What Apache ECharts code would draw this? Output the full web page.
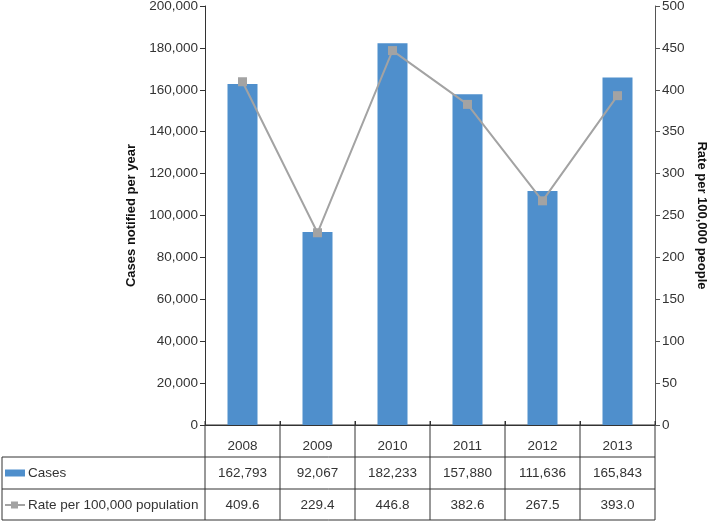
<!DOCTYPE html>
<html><head><meta charset="utf-8">
<script src="https://cdn.jsdelivr.net/npm/echarts@6/dist/echarts.min.js"></script>
<style>html,body{margin:0;padding:0;background:#fff}#c{width:709px;height:522px}</style>
</head><body><div id="c"></div>
<script>
const years = ['2008','2009','2010','2011','2012','2013'];
const cases = [162793, 92067, 182233, 157880, 111636, 165843];
const rates = [409.6, 229.4, 446.8, 382.6, 267.5, 393.0];
const casesLabel = 'Cases';
const rateLabel = 'Rate per 100,000 population';
const leftName = 'Cases notified per year';
const rightName = 'Rate per 100,000 people';

const FONT = 'Liberation Sans, Arial, Helvetica, sans-serif';
const FS = 13.5;
const BLUE = '#4f8fcc';
const GREY = '#a3a3a3';
const chart = echarts.init(document.getElementById('c'), null, {renderer:'canvas'});
const fmt = v => v.toLocaleString('en-US');
const option = {
  animation:false,
  grid:{left:205, right:54, top:6, bottom:97, containLabel:false, outerBoundsMode:'none'},
  xAxis:{type:'category', data:years,
    axisLine:{show:true, lineStyle:{color:'#333', width:1}},
    axisTick:{show:true, inside:true, length:4, lineStyle:{color:'#333'}},
    axisLabel:{show:true, margin:14, fontFamily:FONT, fontSize:FS, color:'#333'}},
  yAxis:[
    {type:'value', min:0, max:200000, interval:20000, position:'left',
     name:leftName, nameLocation:'middle', nameGap:66,
     nameTextStyle:{fontFamily:FONT, fontSize:13, fontWeight:'bold', color:'#111'},
     axisLine:{show:true, lineStyle:{color:'#333'}},
     axisTick:{show:true, length:5, lineStyle:{color:'#333'}},
     axisLabel:{formatter:v=>fmt(v), fontFamily:FONT, fontSize:FS, color:'#333', margin:7},
     splitLine:{show:false}},
    {type:'value', min:0, max:500, interval:50, position:'right',
     name:rightName, nameLocation:'middle', nameGap:39, nameRotate:-90,
     nameTextStyle:{fontFamily:FONT, fontSize:13, fontWeight:'bold', color:'#111'},
     axisLine:{show:true, lineStyle:{color:'#555'}},
     axisTick:{show:true, length:5, lineStyle:{color:'#555'}},
     axisLabel:{fontFamily:FONT, fontSize:FS, color:'#333', margin:7},
     splitLine:{show:false}}
  ],
  series:[
    {name:casesLabel, type:'bar', data:cases, barWidth:'40%', itemStyle:{color:BLUE}, yAxisIndex:0},
    {name:rateLabel, type:'line', data:rates, yAxisIndex:1, symbol:'rect', symbolSize:9,
     lineStyle:{color:GREY, width:2}, itemStyle:{color:GREY}}
  ]
};
chart.setOption(option);

// Build data table below the plot from the axis scale
const c0 = chart.convertToPixel({xAxisIndex:0}, 0);
const c1 = chart.convertToPixel({xAxisIndex:0}, 1);
const band = c1 - c0;
const x0 = c0 - band/2;
const xEnd = x0 + band*years.length;
const yTop = chart.convertToPixel({yAxisIndex:0}, 0);
const rowH = 32;
const tableLeft = 2;
const g = [];
const line = (x1,y1,x2,y2) => g.push({type:'line', shape:{x1,y1,x2,y2}, style:{stroke:'#333', lineWidth:1}, silent:true});
line(x0, yTop, xEnd, yTop);
line(tableLeft, yTop+rowH, xEnd, yTop+rowH);
line(tableLeft, yTop+2*rowH, xEnd, yTop+2*rowH);
line(tableLeft, yTop+3*rowH-1, xEnd, yTop+3*rowH-1);
line(tableLeft, yTop+rowH, tableLeft, yTop+3*rowH-1);
for (let i=0;i<=years.length;i++){
  const x = x0 + band*i;
  line(x, yTop-4, x, yTop+3*rowH-1);
}
const txt = (x,y,text,align) => g.push({type:'text', x, y, silent:true,
  style:{text, fill:'#333', font:FS+'px '+FONT, align:align||'center', verticalAlign:'middle'}});
for (let i=0;i<years.length;i++){
  const cx = x0 + band*(i+0.5);
  txt(cx, yTop+rowH*1.5, fmt(cases[i]));
  txt(cx, yTop+rowH*2.5, rates[i].toFixed(1));
}
const ry1 = yTop+rowH*1.5;
g.push({type:'rect', shape:{x:5, y:ry1-3.5, width:20, height:7}, style:{fill:BLUE}, silent:true});
txt(28, ry1, casesLabel, 'left');
const ry2 = yTop+rowH*2.5;
g.push({type:'line', shape:{x1:5,y1:ry2,x2:25,y2:ry2}, style:{stroke:GREY, lineWidth:2}, silent:true});
g.push({type:'rect', shape:{x:11, y:ry2-3.5, width:7, height:7}, style:{fill:GREY}, silent:true});
txt(28, ry2, rateLabel, 'left');
chart.setOption({graphic:{elements:g}});
</script></body></html>
